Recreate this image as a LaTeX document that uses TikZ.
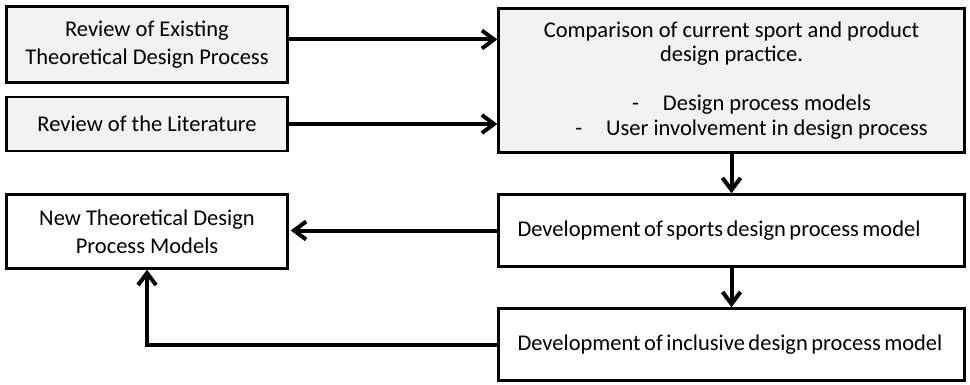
\documentclass[tikz,border=0pt]{standalone}
\usepackage{fontspec}
\setmainfont{Carlito}
\usepackage{xcolor}
\usetikzlibrary{arrows.meta, positioning, calc}
\definecolor{reviewgray}{HTML}{F2F2F2}
\protected\def\tightspaces{\spaceskip=3.5pt plus 1pt minus 1pt\relax}

\begin{document}
\begin{tikzpicture}[
    x=1pt, y=-1pt,
    stage/.style={rectangle, draw=black, fill=#1, line width=2.5pt,
                  font=\fontsize{22.5}{28}\selectfont, align=center,
                  minimum width=281pt, inner sep=0pt},
    stage/.default=white,
    devstage/.style={stage, minimum width=466pt, minimum height=72pt,
                     text width=428pt, align=left, inner xsep=19pt,
                     execute at begin node=\tightspaces},
    arrow/.style={-{Straight Barb[length=12pt, width=18pt]}, line width=4pt}
]
\useasboundingbox (0,0) rectangle (970,385);

% Reviews
\node[stage=reviewgray, minimum height=76pt] at (147,44.5) (existing) {Review of Existing\\Theoretical Design Process};
\node[stage=reviewgray, minimum height=54pt] at (147,124) (literature) {Review of the Literature};

% Comparison
\node[stage=reviewgray, minimum width=466pt, minimum height=144pt,
      font=\fontsize{22.5}{24.5}\selectfont] at (731.5,80.5) (compare)
     {Comparison of current sport and product\\design practice.\\[24.5pt]
      \hspace*{40pt}-\hspace{24pt}Design process models\\
      \hspace*{40pt}-\hspace{24pt}User involvement in design process};

% Development
\node[devstage] at (731.5,230.5) (sports) {Development of sports design process model};
\node[devstage] at (731.5,344.5) (inclusive) {Development of inclusive design process model};

% Outcome
\node[stage, minimum height=74pt] at (147,231.5) (newmodels) {New Theoretical Design\\Process Models};

% Connections
\draw[arrow] ([yshift=5pt]existing.east) -- ([yshift=5pt]existing.east -| compare.west);
\draw[arrow] (literature.east) -- (literature.east -| compare.west);
\draw[arrow] (compare.south) -- (sports.north);
\draw[arrow] (sports.south) -- (inclusive.north);
\draw[arrow] (sports.west) -- ($(sports.west -| newmodels.east)+(2,0)$);
\draw[arrow] (inclusive.west) -| (newmodels.south);

\end{tikzpicture}
\end{document}
